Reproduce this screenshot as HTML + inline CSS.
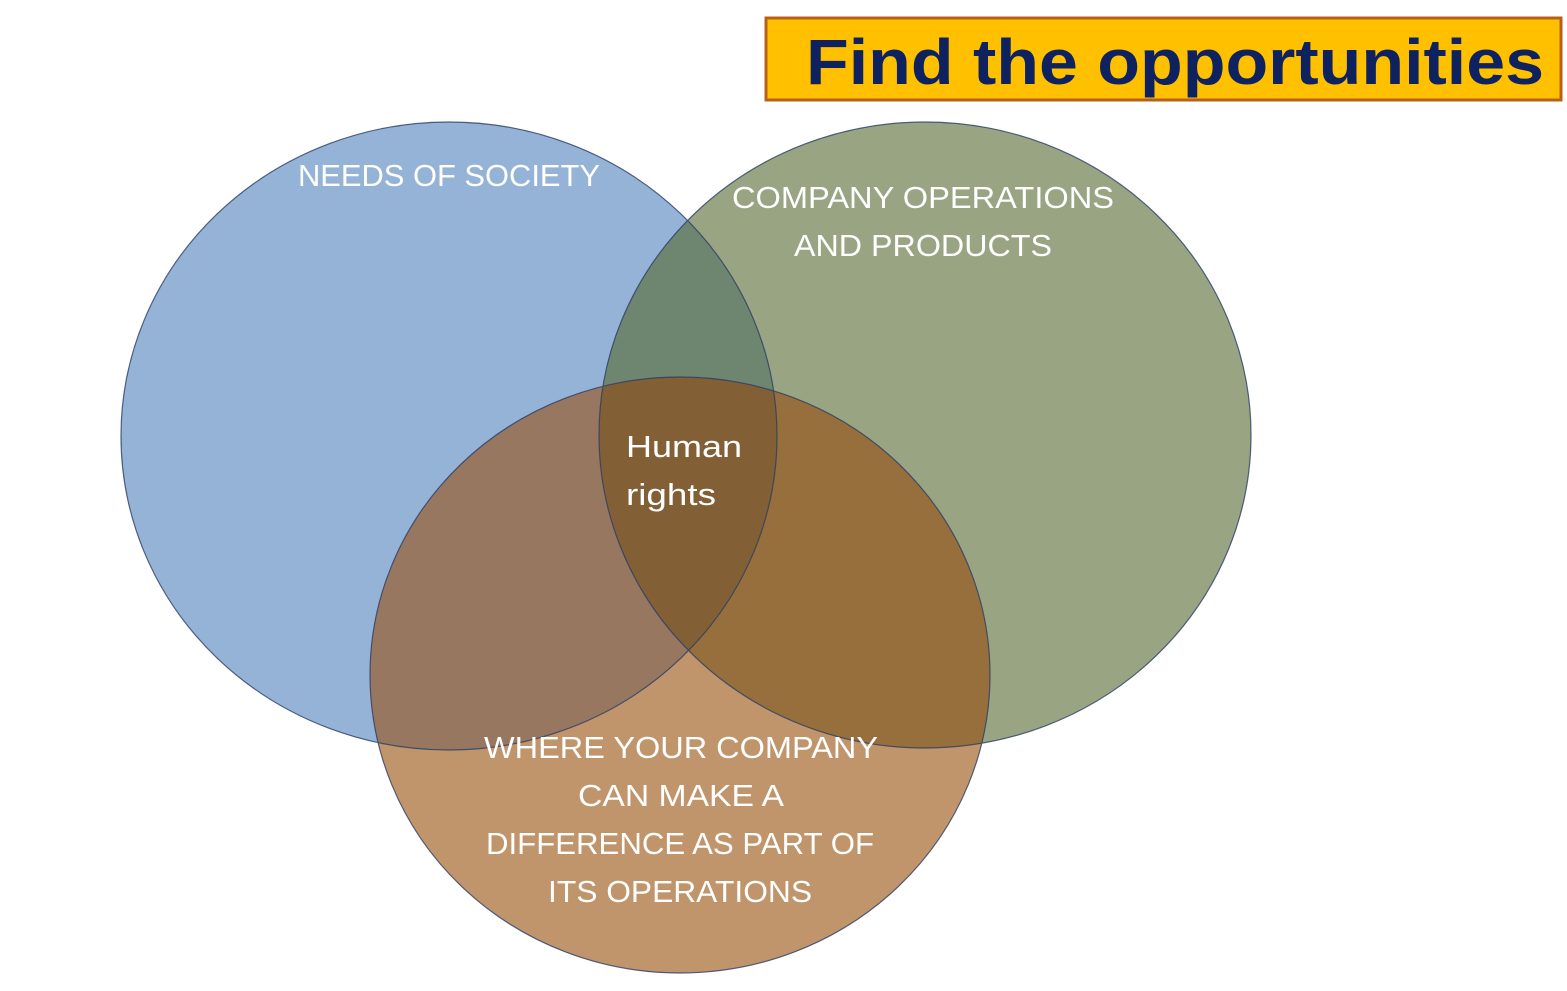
<!DOCTYPE html>
<html><head><meta charset="utf-8"><style>html,body{margin:0;padding:0;background:#fff;}svg{display:block}</style></head>
<body>
<svg width="1567" height="991" viewBox="0 0 1567 991" xmlns="http://www.w3.org/2000/svg" font-family="Liberation Sans, sans-serif">
<defs>
<clipPath id="cb"><ellipse cx="449" cy="436" rx="328" ry="314"/></clipPath>
<clipPath id="cg"><ellipse cx="925" cy="435" rx="326" ry="313"/></clipPath>
</defs>
<ellipse cx="449" cy="436" rx="328" ry="314" fill="#95b3d7"/>
<ellipse cx="925" cy="435" rx="326" ry="313" fill="#98a482"/>
<ellipse cx="680" cy="675" rx="310" ry="298" fill="#c0956b"/>
<ellipse cx="925" cy="435" rx="326" ry="313" fill="#6e8670" clip-path="url(#cb)"/>
<ellipse cx="680" cy="675" rx="310" ry="298" fill="#977760" clip-path="url(#cb)"/>
<ellipse cx="680" cy="675" rx="310" ry="298" fill="#976f3c" clip-path="url(#cg)"/>
<g clip-path="url(#cg)"><ellipse cx="680" cy="675" rx="310" ry="298" fill="#835f35" clip-path="url(#cb)"/></g>
<g fill="none" stroke="#2a3d66" stroke-width="1.2" opacity="0.8">
<ellipse cx="449" cy="436" rx="328" ry="314"/>
<ellipse cx="925" cy="435" rx="326" ry="313"/>
<ellipse cx="680" cy="675" rx="310" ry="298"/>
</g>
<rect x="766" y="18" width="795" height="82" fill="#ffc000" stroke="#b8601a" stroke-width="3"/>
<text x="806" y="84" font-size="64" font-weight="bold" fill="#0e2260" textLength="738" lengthAdjust="spacingAndGlyphs">Find the opportunities</text>
<g fill="#fff" font-size="31">
<text x="298" y="186" textLength="302" lengthAdjust="spacingAndGlyphs">NEEDS OF SOCIETY</text>
<text x="732" y="208" textLength="382" lengthAdjust="spacingAndGlyphs">COMPANY OPERATIONS</text>
<text x="794" y="256" textLength="258" lengthAdjust="spacingAndGlyphs">AND PRODUCTS</text>
<text x="626" y="457" textLength="116" lengthAdjust="spacingAndGlyphs">Human</text>
<text x="626" y="505" textLength="90" lengthAdjust="spacingAndGlyphs">rights</text>
<text x="484" y="758" textLength="394" lengthAdjust="spacingAndGlyphs">WHERE YOUR COMPANY</text>
<text x="578" y="806" textLength="206" lengthAdjust="spacingAndGlyphs">CAN MAKE A</text>
<text x="486" y="854" textLength="388" lengthAdjust="spacingAndGlyphs">DIFFERENCE AS PART OF</text>
<text x="548" y="902" textLength="264" lengthAdjust="spacingAndGlyphs">ITS OPERATIONS</text>
</g>
</svg>
</body></html>
